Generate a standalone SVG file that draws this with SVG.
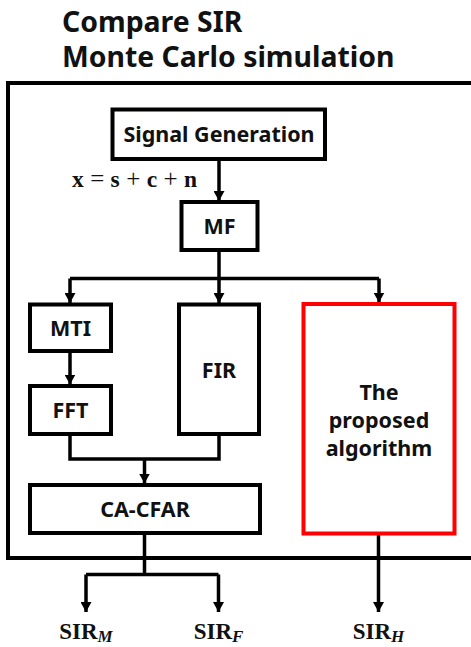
<svg xmlns="http://www.w3.org/2000/svg" width="471" height="647" viewBox="0 0 471 647">
<defs>
<marker id="ah" markerWidth="10" markerHeight="11" refX="10" refY="5.5" orient="auto" markerUnits="userSpaceOnUse" viewBox="0 0 10 11">
<path d="M0,0 L10,5.5 L0,11 Z" fill="#000"/>
</marker>
</defs>
<style>
.box{fill:#fff;stroke:#000;stroke-width:4}
.red{fill:#fff;stroke:#f00;stroke-width:4}
.t{font-family:"Noto Sans","Open Sans",sans-serif;font-weight:700;fill:#111;text-anchor:middle;font-size:21.5px}
.ttl{font-family:"Noto Sans","Open Sans",sans-serif;font-weight:700;fill:#111;font-size:28.4px}
.m{font-family:"Liberation Serif",serif;font-weight:700;fill:#111}
.op{font-weight:400;font-size:25px}
.c{fill:none;stroke:#000;stroke-width:3.5}
.ca{fill:none;stroke:#000;stroke-width:3.5;marker-end:url(#ah)}
</style>
<rect width="471" height="647" fill="#fff"/>
<g id="title">
<text class="ttl" x="62" y="32">Compare SIR</text>
<text class="ttl" x="62" y="67">Monte Carlo simulation</text>
</g>
<g id="frame"><path d="M480,83 H8 V558 H480" fill="none" stroke="#000" stroke-width="4"/></g>
<g id="connectors">
<path class="ca" d="M219,159 V201"/>
<path class="c" d="M219,250 V278.5"/>
<path class="c" d="M70,278.5 H379"/>
<path class="ca" d="M70,278.5 V303"/>
<path class="ca" d="M219,278.5 V303"/>
<path class="ca" d="M379,278.5 V302.5"/>
<path class="ca" d="M70,351 V384.5"/>
<path class="c" d="M70,434 V459 H219 V434"/>
<path class="ca" d="M144.5,459 V483.5"/>
<path class="c" d="M144.5,533 V574.5"/>
<path class="c" d="M86,574.5 H218.5"/>
<path class="ca" d="M86,574.5 V612"/>
<path class="ca" d="M218.5,574.5 V612"/>
<path class="ca" d="M378.5,533 V612"/>
</g>
<g id="n-siggen"><rect class="box" x="112.5" y="109.5" width="212.5" height="49.5"/><text class="t" x="219" y="141.5">Signal Generation</text></g>
<g id="eq"><text class="m" x="72" y="187" font-size="23.5" word-spacing="0.5">x <tspan class="op">=</tspan> s <tspan class="op">+</tspan> c <tspan class="op">+</tspan> n</text></g>
<g id="n-mf"><rect class="box" x="181.5" y="202" width="76" height="48"/><text class="t" x="219.5" y="233.5">MF</text></g>
<g id="n-mti"><rect class="box" x="30" y="304.5" width="81" height="46.5"/><text class="t" x="70.5" y="335.5">MTI</text></g>
<g id="n-fft"><rect class="box" x="30" y="386" width="81" height="48"/><text class="t" x="70.5" y="417.5">FFT</text></g>
<g id="n-fir"><rect class="box" x="179" y="304.5" width="80" height="129.5"/><text class="t" x="219" y="377.5">FIR</text></g>
<g id="n-proposed"><rect class="red" x="303.5" y="304" width="151" height="229.5"/><text class="t" x="379" y="400">The</text><text class="t" x="379" y="428">proposed</text><text class="t" x="379" y="456">algorithm</text></g>
<g id="n-cacfar"><rect class="box" x="30" y="485" width="230" height="48"/><text class="t" x="145" y="516.5">CA-CFAR</text></g>
<g id="outputs">
<text class="m" x="86" y="639" font-size="23" text-anchor="middle">SIR<tspan font-style="italic" font-size="17" dy="3">M</tspan></text>
<text class="m" x="218.5" y="639" font-size="23" text-anchor="middle">SIR<tspan font-style="italic" font-size="17" dy="3">F</tspan></text>
<text class="m" x="378.5" y="639" font-size="23" text-anchor="middle">SIR<tspan font-style="italic" font-size="17" dy="3">H</tspan></text>
</g>
</svg>
